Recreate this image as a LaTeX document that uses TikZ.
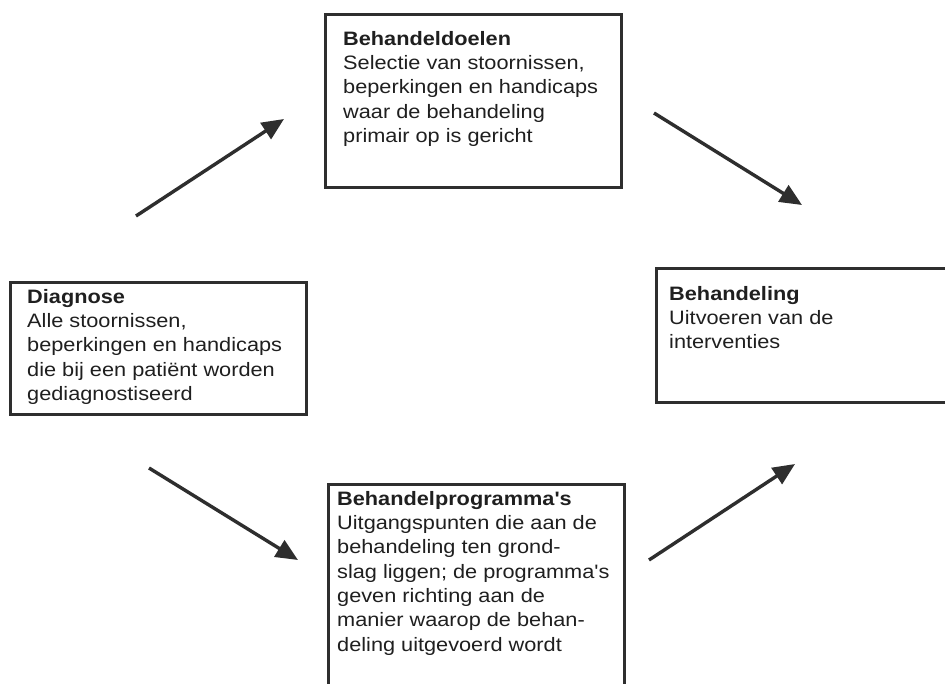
\documentclass[tikz,border=0pt]{standalone}
\usepackage{fontspec}
\newfontfamily\boxfont[FakeStretch=1.12]{Liberation Sans}
\usetikzlibrary{arrows.meta}
\begin{document}
\begin{tikzpicture}[x=1pt,y=-1pt,
  frame/.style={draw=black!82, line width=2.6pt, inner sep=0pt, anchor=north west},
  boxtext/.style={anchor=north west, inner sep=0pt, align=left, text=black!88,
    font=\boxfont\fontsize{19.4}{24.3}\selectfont},
  flow/.style={draw=black!82, line width=3.4pt, -{Triangle[length=22pt,width=19pt]}}]
\useasboundingbox (0,0) rectangle (945,683);
\fill[white] (0,0) rectangle (945,683);

% boxes
\node[frame, minimum width=296pt, minimum height=173pt] (doelen) at (324,13) {};
\node[frame, minimum width=296pt, minimum height=132pt] (diagnose) at (9,281) {};
\node[frame, minimum width=310pt, minimum height=134pt] (behandeling) at (655,267) {};
\node[frame, minimum width=296pt, minimum height=230pt] (programma) at (327,483) {};

% box texts
\node[boxtext] (doelentxt) at (343,31) {\textbf{Behandeldoelen}\\Selectie van stoornissen,\\beperkingen en handicaps\\waar de behandeling\\primair op is gericht};
\node[boxtext] (diagnosetxt) at (27,289) {\textbf{Diagnose}\\Alle stoornissen,\\beperkingen en handicaps\\die bij een patiënt worden\\gediagnostiseerd};
\node[boxtext] (behandelingtxt) at (669,286) {\textbf{Behandeling}\\Uitvoeren van de\\interventies};
\node[boxtext] (programmatxt) at (337,491) {\textbf{Behandelprogramma's}\\Uitgangspunten die aan de\\behandeling ten grond-\\slag liggen; de programma's\\geven richting aan de\\manier waarop de behan-\\deling uitgevoerd wordt};

% arrows
\coordinate (a1s) at (136,216);
\coordinate (a1e) at (284,119);
\coordinate (a2s) at (654,113);
\coordinate (a2e) at (802,205);
\coordinate (a3s) at (149,468);
\coordinate (a3e) at (298,560);
\coordinate (a4s) at (649,560);
\coordinate (a4e) at (795,464);
\draw[flow] (a1s) -- (a1e);
\draw[flow] (a2s) -- (a2e);
\draw[flow] (a3s) -- (a3e);
\draw[flow] (a4s) -- (a4e);
\end{tikzpicture}
\end{document}
